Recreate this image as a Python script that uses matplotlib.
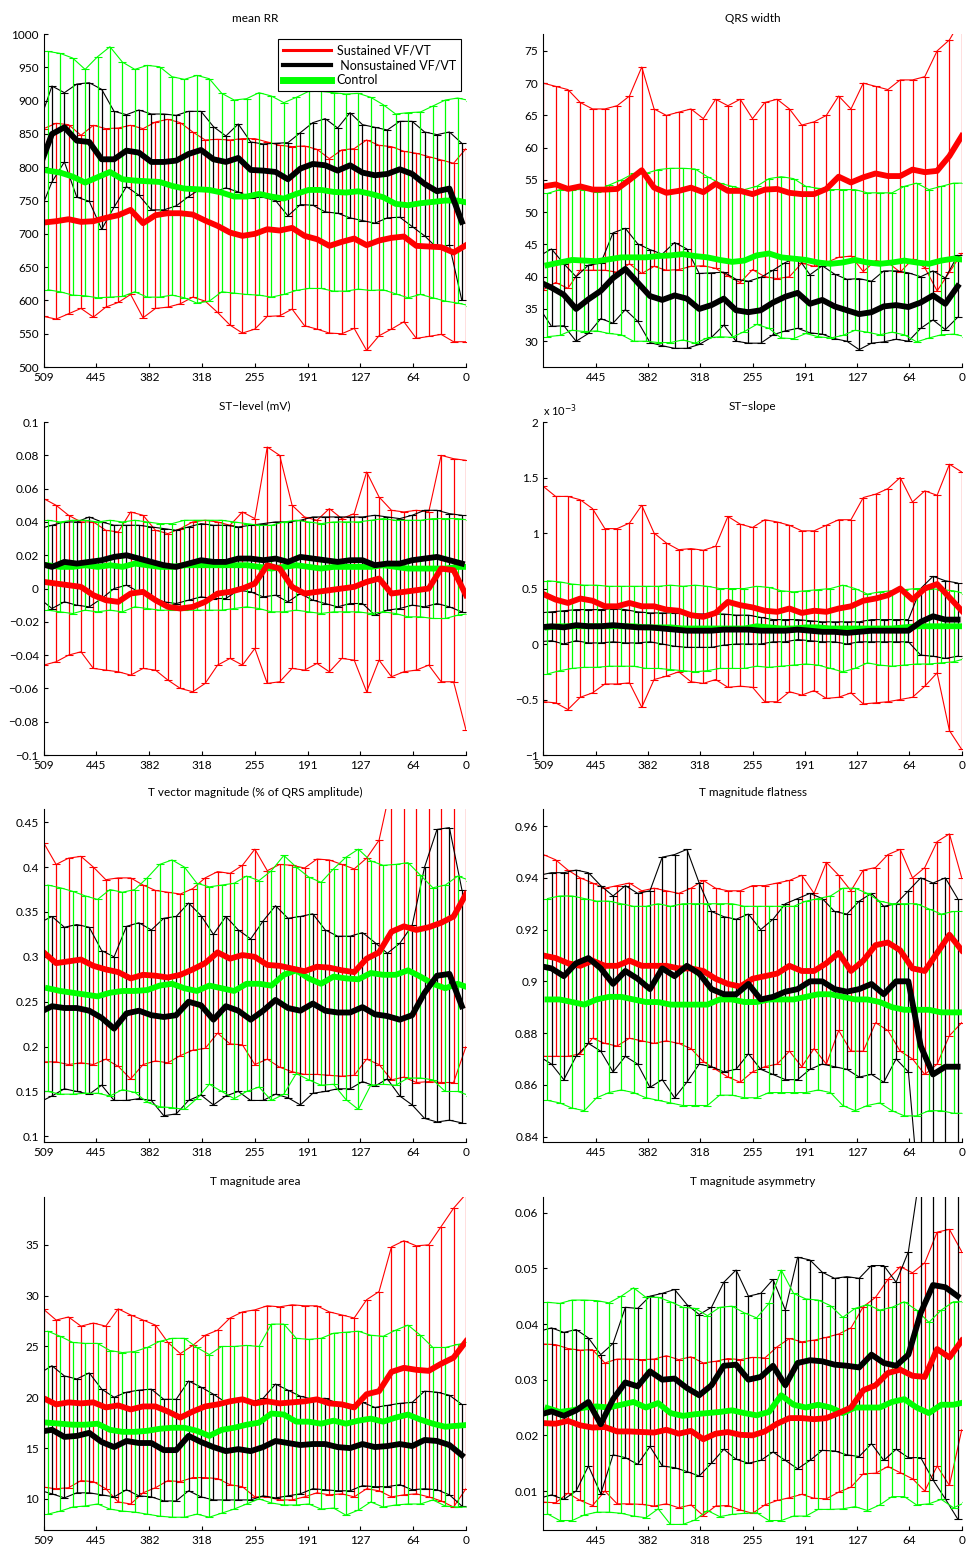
import numpy as np
import matplotlib
matplotlib.use('Agg')
import matplotlib.pyplot as plt
from matplotlib.lines import Line2D
from matplotlib.ticker import FuncFormatter

plt.rcParams['font.family'] = ['Lato', 'DejaVu Sans']

# sample index before the event, read every ~15 samples
x_sus = np.linspace(509, 0, 35)
x_non = x_sus + 5
x_ctl = x_sus - 5
tick_pos = np.linspace(509, 0, 9)
tick_lab = ['509', '445', '382', '318', '255', '191', '127', '64', '0']

labels = ['Sustained VF/VT', ' Nonsustained VF/VT', 'Control']

# mean RR
rr_sus_mean = [717, 719, 722, 718, 719, 724, 728, 736, 716, 728, 731, 731, 729, 720, 712, 702, 697, 700, 707, 705,
               709, 697, 692, 682, 688, 693, 683, 690, 694, 696, 682, 681, 680, 672, 683]
rr_sus_sd = [141, 147, 142, 130, 144, 134, 131, 127, 142, 140, 141, 136, 124, 121, 130, 139, 146, 143, 131, 128,
             122, 135, 135, 131, 138, 135, 158, 143, 137, 128, 139, 135, 131, 134, 145]
rr_non_mean = [800, 850, 860, 840, 838, 812, 812, 825, 822, 808, 808, 810, 820, 826, 812, 808, 814, 796, 795, 793,
               782, 798, 805, 803, 795, 803, 792, 788, 790, 797, 790, 775, 764, 768, 718]
rr_non_sd = [68, 72, 52, 85, 89, 105, 72, 54, 64, 72, 72, 68, 64, 58, 49, 39, 51, 42, 40, 43,
             55, 54, 62, 70, 64, 79, 72, 72, 66, 72, 79, 78, 85, 85, 118]
rr_ctl_mean = [795, 792, 786, 777, 785, 793, 782, 780, 779, 778, 772, 768, 767, 766, 762, 756, 756, 760, 756, 753,
               760, 766, 766, 763, 762, 764, 760, 755, 745, 743, 746, 748, 750, 750, 746]
rr_ctl_sd = [179, 179, 178, 170, 181, 188, 176, 167, 174, 173, 164, 164, 171, 167, 149, 145, 147, 152, 151, 144,
             145, 148, 148, 149, 148, 147, 145, 139, 135, 139, 137, 144, 151, 154, 154]

# QRS width
qrs_sus_mean = [54, 54.3, 53.6, 54, 53.5, 53.5, 53.6, 55, 56.5, 53.8, 53, 53.3, 53.8, 53.1, 54.4, 53.3, 53.3, 52.8,
                53.5, 53.6, 53, 52.8, 52.8, 53.6, 55.5, 54.6, 55.4, 56, 55.6, 55.6, 56.6, 56.2, 56.4, 58.7, 61.8]
qrs_sus_sd = [16, 15.2, 15.4, 13, 12.5, 12.5, 12.9, 13, 16, 12.2, 12, 12.2, 12.2, 11.4, 13.1, 13.2, 14.2, 11.7,
              13.5, 13.9, 13, 10.7, 11.2, 11.4, 12.5, 11.4, 14.6, 13.5, 13.4, 14.9, 13.9, 14.8, 18.6, 18, 18.2]
qrs_non_mean = [39.2, 38.3, 37.2, 35, 36.5, 37.8, 39.8, 41.2, 39.1, 37, 36.4, 37.1, 36.6, 35, 35.6, 36.6, 34.8, 34.5,
                34.8, 36, 36.9, 37.5, 35.8, 36.4, 35.4, 34.8, 34.2, 34.5, 35.4, 35.6, 35.3, 36, 37.1, 35.8, 38.5]
qrs_non_sd = [4, 6, 4.8, 5, 5.3, 4.3, 7, 6.3, 6, 7.2, 7.1, 8.2, 7.7, 5.5, 5, 4.1, 4.8, 4.8,
              5.1, 5, 5.3, 5.5, 4.5, 5.3, 5, 4.8, 5.5, 4.8, 5.5, 5.3, 5.3, 4, 3.8, 4, 4.8]
qrs_ctl_mean = [41.8, 42.2, 42.6, 42.5, 42.4, 42.7, 43, 43, 43, 43.2, 43.3, 43.5, 43.2, 43, 42.6, 42.3, 42.5, 43.3,
                43.6, 43, 42.8, 42.6, 42.2, 42, 42.2, 42.6, 42.2, 42, 42.2, 42.5, 42.2, 42, 42.5, 42.8, 42.6]
qrs_ctl_sd = [11.1, 11.3, 10.9, 11, 10.8, 11.5, 12, 13, 13, 13.4, 13.5, 13.3, 13.5, 12.5, 11.9, 11.7, 11, 10.7,
              11.6, 12.5, 12.4, 11.4, 11.5, 11.5, 11.3, 10.9, 10.8, 11, 10.8, 11.5, 12.3, 11.5, 11.5, 11.7, 11.9]

# ST-level (mV)
st_sus_mean = [0.004, 0.003, 0.002, 0.001, -0.004, -0.007, -0.008, -0.003, -0.002, -0.007, -0.011, -0.012, -0.011,
               -0.008, -0.003, -0.002, 0.0, 0.003, 0.014, 0.012, 0.001, -0.003, -0.002, -0.001, 0.0, 0.001, 0.004,
               0.006, -0.003, -0.002, -0.001, 0.0, 0.012, 0.011, -0.004]
st_sus_sd = [0.050, 0.047, 0.042, 0.039, 0.044, 0.042, 0.042, 0.049, 0.046, 0.042, 0.044, 0.048, 0.051, 0.049,
             0.043, 0.040, 0.046, 0.039, 0.071, 0.068, 0.049, 0.046, 0.043, 0.049, 0.042, 0.044, 0.066, 0.049,
             0.050, 0.048, 0.048, 0.046, 0.068, 0.067, 0.081]
st_non_mean = [0.015, 0.013, 0.016, 0.015, 0.016, 0.017, 0.019, 0.02, 0.018, 0.016, 0.014, 0.013, 0.015, 0.017,
               0.016, 0.016, 0.018, 0.018, 0.017, 0.018, 0.016, 0.019, 0.018, 0.017, 0.016, 0.017, 0.017, 0.014,
               0.015, 0.015, 0.017, 0.018, 0.019, 0.017, 0.015]
st_non_sd = [0.021, 0.025, 0.024, 0.025, 0.027, 0.023, 0.019, 0.018, 0.02, 0.021, 0.022, 0.022, 0.022, 0.022,
             0.022, 0.022, 0.019, 0.02, 0.022, 0.022, 0.024, 0.022, 0.025, 0.026, 0.027, 0.026, 0.026, 0.03,
             0.028, 0.027, 0.027, 0.029, 0.028, 0.028, 0.029]
st_ctl_mean = [0.014, 0.013, 0.013, 0.014, 0.013, 0.014, 0.013, 0.015, 0.014, 0.013, 0.013, 0.014, 0.014, 0.014,
               0.014, 0.014, 0.014, 0.013, 0.012, 0.013, 0.014, 0.013, 0.012, 0.013, 0.013, 0.013, 0.013, 0.014,
               0.013, 0.012, 0.012, 0.012, 0.012, 0.013, 0.013]
st_ctl_sd = [0.027, 0.027, 0.028, 0.027, 0.027, 0.027, 0.027, 0.026, 0.026, 0.026, 0.026, 0.027, 0.027, 0.027,
             0.027, 0.026, 0.025, 0.025, 0.026, 0.027, 0.027, 0.027, 0.027, 0.027, 0.027, 0.027, 0.028, 0.028,
             0.028, 0.029, 0.029, 0.03, 0.03, 0.029, 0.028]

# ST-slope, in units of 1e-3
sl_sus_mean = [0.45, 0.4, 0.37, 0.41, 0.39, 0.34, 0.34, 0.37, 0.34, 0.34, 0.31, 0.3, 0.26, 0.245, 0.28, 0.38, 0.35,
               0.33, 0.3, 0.29, 0.32, 0.28, 0.3, 0.29, 0.32, 0.34, 0.39, 0.41, 0.44, 0.5, 0.4, 0.5, 0.54, 0.42, 0.3]
sl_sus_sd = [0.97, 0.93, 0.96, 0.89, 0.83, 0.7, 0.7, 0.72, 0.91, 0.66, 0.6, 0.55, 0.6, 0.6, 0.6, 0.77, 0.73,
             0.72, 0.82, 0.81, 0.75, 0.74, 0.72, 0.78, 0.8, 0.78, 0.93, 0.94, 0.96, 1.0, 0.88, 0.88, 0.8, 1.2, 1.25]
sl_non_mean = [0.15, 0.16, 0.15, 0.17, 0.16, 0.16, 0.17, 0.16, 0.15, 0.15, 0.14, 0.13, 0.12, 0.12, 0.12, 0.13, 0.13,
               0.13, 0.12, 0.12, 0.12, 0.13, 0.12, 0.11, 0.11, 0.1, 0.11, 0.12, 0.12, 0.12, 0.12, 0.2, 0.25, 0.22, 0.22]
sl_non_sd = [0.13, 0.13, 0.15, 0.14, 0.15, 0.15, 0.15, 0.15, 0.14, 0.13, 0.14, 0.15, 0.15, 0.15, 0.15, 0.14, 0.13,
             0.13, 0.12, 0.1, 0.1, 0.09, 0.09, 0.09, 0.09, 0.1, 0.09, 0.1, 0.1, 0.1, 0.1, 0.3, 0.36, 0.35, 0.33]
sl_ctl_mean = [0.15, 0.16, 0.16, 0.16, 0.16, 0.16, 0.16, 0.16, 0.15, 0.15, 0.15, 0.14, 0.14, 0.14, 0.14, 0.14, 0.14,
               0.16, 0.15, 0.14, 0.14, 0.15, 0.15, 0.14, 0.14, 0.14, 0.14, 0.14, 0.14, 0.15, 0.16, 0.16, 0.16, 0.16, 0.16]
sl_ctl_sd = [0.42, 0.4, 0.38, 0.37, 0.37, 0.36, 0.36, 0.36, 0.37, 0.37, 0.38, 0.38, 0.39, 0.38, 0.36, 0.36, 0.36,
             0.36, 0.36, 0.34, 0.33, 0.33, 0.34, 0.36, 0.39, 0.36, 0.31, 0.33, 0.34, 0.34, 0.34, 0.34, 0.33, 0.32, 0.29]

# T vector magnitude
tv_sus_mean = [0.305, 0.293, 0.295, 0.297, 0.29, 0.286, 0.283, 0.276, 0.28, 0.279, 0.277, 0.28, 0.286, 0.293,
               0.305, 0.298, 0.302, 0.3, 0.291, 0.29, 0.287, 0.284, 0.289, 0.288, 0.285, 0.283, 0.298, 0.305,
               0.328, 0.334, 0.33, 0.333, 0.338, 0.345, 0.37]
tv_sus_sd = [0.122, 0.11, 0.115, 0.115, 0.11, 0.1, 0.105, 0.112, 0.1, 0.095, 0.095, 0.09, 0.09, 0.095, 0.09,
             0.095, 0.1, 0.12, 0.105, 0.113, 0.115, 0.115, 0.12, 0.12, 0.118, 0.115, 0.112, 0.125, 0.165, 0.168,
             0.17, 0.172, 0.178, 0.185, 0.17]
tv_non_mean = [0.238, 0.245, 0.243, 0.243, 0.24, 0.232, 0.22, 0.237, 0.24, 0.235, 0.233, 0.235, 0.25, 0.246,
               0.23, 0.245, 0.24, 0.23, 0.24, 0.252, 0.243, 0.24, 0.248, 0.24, 0.238, 0.238, 0.244, 0.236, 0.234,
               0.23, 0.235, 0.26, 0.279, 0.281, 0.245]
tv_non_sd = [0.1, 0.1, 0.09, 0.093, 0.093, 0.075, 0.08, 0.097, 0.098, 0.095, 0.11, 0.11, 0.11, 0.1, 0.095, 0.1,
             0.09, 0.09, 0.1, 0.105, 0.1, 0.105, 0.1, 0.09, 0.085, 0.085, 0.083, 0.08, 0.07, 0.085, 0.1, 0.14,
             0.163, 0.163, 0.13]
tv_ctl_mean = [0.265, 0.262, 0.26, 0.258, 0.256, 0.26, 0.262, 0.262, 0.263, 0.268, 0.27, 0.265, 0.262, 0.268,
               0.265, 0.262, 0.27, 0.27, 0.268, 0.28, 0.285, 0.276, 0.27, 0.278, 0.276, 0.275, 0.282, 0.28, 0.28,
               0.285, 0.278, 0.27, 0.265, 0.27, 0.265]
tv_ctl_sd = [0.115, 0.115, 0.113, 0.11, 0.108, 0.115, 0.11, 0.113, 0.125, 0.135, 0.138, 0.135, 0.12, 0.11, 0.115,
             0.12, 0.12, 0.115, 0.128, 0.133, 0.115, 0.113, 0.113, 0.12, 0.135, 0.145, 0.125, 0.122, 0.123, 0.12,
             0.113, 0.107, 0.115, 0.12, 0.12]

# T magnitude flatness
tf_sus_mean = [0.91, 0.909, 0.907, 0.906, 0.908, 0.906, 0.906, 0.908, 0.906, 0.906, 0.906, 0.905, 0.905, 0.904,
               0.901, 0.899, 0.898, 0.901, 0.902, 0.903, 0.906, 0.904, 0.904, 0.907, 0.911, 0.904, 0.908, 0.914,
               0.915, 0.912, 0.905, 0.904, 0.911, 0.918, 0.912]
tf_sus_sd = [0.039, 0.038, 0.036, 0.034, 0.03, 0.03, 0.031, 0.03, 0.029, 0.03, 0.029, 0.029, 0.031, 0.035, 0.035,
             0.036, 0.037, 0.036, 0.035, 0.035, 0.033, 0.037, 0.03, 0.039, 0.03, 0.031, 0.035, 0.03, 0.034, 0.039,
             0.035, 0.04, 0.043, 0.039, 0.028]
tf_non_mean = [0.906, 0.905, 0.902, 0.907, 0.909, 0.905, 0.899, 0.904, 0.901, 0.897, 0.905, 0.902, 0.906, 0.903,
               0.897, 0.895, 0.895, 0.899, 0.893, 0.894, 0.896, 0.897, 0.9, 0.9, 0.897, 0.896, 0.897, 0.899, 0.895,
               0.9, 0.9, 0.875, 0.864, 0.867, 0.867]
tf_non_sd = [0.035, 0.037, 0.04, 0.036, 0.033, 0.032, 0.034, 0.033, 0.033, 0.038, 0.043, 0.047, 0.045, 0.035,
             0.03, 0.03, 0.029, 0.027, 0.027, 0.03, 0.034, 0.035, 0.034, 0.032, 0.03, 0.03, 0.034, 0.035, 0.034,
             0.03, 0.035, 0.065, 0.074, 0.073, 0.065]
tf_ctl_mean = [0.893, 0.893, 0.892, 0.891, 0.893, 0.894, 0.894, 0.893, 0.892, 0.892, 0.891, 0.891, 0.891, 0.891,
               0.893, 0.893, 0.892, 0.892, 0.893, 0.893, 0.893, 0.894, 0.895, 0.895, 0.894, 0.893, 0.893, 0.892,
               0.89, 0.889, 0.889, 0.889, 0.888, 0.888, 0.888]
tf_ctl_sd = [0.039, 0.04, 0.041, 0.041, 0.038, 0.037, 0.036, 0.036, 0.037, 0.038, 0.038, 0.039, 0.039, 0.039,
             0.037, 0.037, 0.037, 0.037, 0.036, 0.036, 0.036, 0.037, 0.037, 0.038, 0.042, 0.043, 0.041, 0.039,
             0.04, 0.041, 0.041, 0.039, 0.038, 0.039, 0.039]

# T magnitude area
ta_sus_mean = [19.9, 19.3, 19.5, 19.4, 19.5, 19, 19.2, 18.8, 19.1, 19.1, 18.6, 18, 18.6, 19.1, 19.3, 19.6, 19.8,
               19.4, 19.6, 19.4, 19.5, 19.6, 19.8, 19.4, 19.3, 19.0, 20.3, 20.6, 22.5, 22.9, 22.7, 22.6, 23.3,
               23.9, 25.5]
ta_sus_sd = [8.75, 8.3, 8.4, 7.6, 7.8, 8, 9.5, 9.3, 8.5, 8, 6.8, 6.3, 6.5, 7, 7.3, 8.2, 8.6, 9.2, 9.4, 9.5, 9.6,
             9.4, 9.2, 9, 8.8, 8.8, 9.3, 9.8, 12.3, 12.5, 12.2, 12.4, 13.5, 14.7, 14.5]
ta_non_mean = [16.6, 16.8, 16.1, 16.2, 16.5, 15.6, 15.1, 15.7, 15.5, 15.5, 14.8, 14.8, 16.2, 15.6, 15.1, 14.7,
               14.9, 14.7, 15.1, 15.7, 15.5, 15.3, 15.4, 15.4, 15.1, 15, 15.4, 15.1, 15.2, 15.4, 15.2, 15.8, 15.7,
               15.3, 14.3]
ta_non_sd = [5.75, 6.3, 6, 5.6, 5.9, 5.2, 4.9, 4.8, 5.2, 5.3, 5, 5, 5.4, 5.4, 5.2, 4.8, 5, 4.8, 4.8, 5.6, 5.2,
             4.8, 4.4, 4.5, 4.3, 4.2, 4.1, 3.9, 4, 4, 4.3, 4.8, 4.8, 4.9, 5]
ta_ctl_mean = [17.5, 17.4, 17.3, 17.3, 17.4, 16.8, 16.6, 16.6, 16.7, 16.9, 17, 17, 16.7, 16.2, 16.8, 17, 17.3,
               17.5, 18.4, 18.3, 17.6, 17.6, 17.4, 17.7, 17.4, 17.7, 17.9, 17.6, 18, 18.3, 17.8, 17.4, 17.1, 17.2,
               17.3]
ta_ctl_sd = [9, 8.6, 8.1, 8, 7.9, 7.8, 7.8, 7.9, 8.2, 8.6, 8.8, 8.8, 8.2, 8, 8.2, 8, 7.8, 7.5, 8.8, 8.9, 8.2,
             8.1, 8.4, 8.6, 9, 8.8, 8.2, 8.4, 8.6, 8.8, 8.3, 7.5, 7.8, 8, 8.1]

# T magnitude asymmetry
tas_sus_mean = [0.0222, 0.0221, 0.0226, 0.0218, 0.0214, 0.0215, 0.0207, 0.0207, 0.0206, 0.0205, 0.021, 0.0203,
                0.0208, 0.0193, 0.0203, 0.0206, 0.0201, 0.02, 0.0207, 0.0221, 0.0231, 0.0231, 0.0229, 0.0231,
                0.024, 0.025, 0.0281, 0.029, 0.0312, 0.0318, 0.0307, 0.0305, 0.0355, 0.034, 0.037]
tas_sus_sd = [0.0142, 0.0142, 0.013, 0.0135, 0.014, 0.0115, 0.013, 0.013, 0.013, 0.0132, 0.0133, 0.0133, 0.0133,
              0.0137, 0.013, 0.0132, 0.0135, 0.014, 0.0132, 0.0138, 0.0143, 0.0137, 0.0142, 0.0145, 0.0142,
              0.0143, 0.015, 0.0158, 0.0168, 0.0185, 0.0185, 0.0205, 0.021, 0.023, 0.016]
tas_non_mean = [0.0237, 0.0243, 0.0235, 0.0245, 0.026, 0.022, 0.0265, 0.0295, 0.0288, 0.0315, 0.03, 0.0302,
                0.0285, 0.0272, 0.029, 0.0325, 0.0327, 0.03, 0.0305, 0.0325, 0.029, 0.033, 0.0335, 0.0333, 0.0327,
                0.0325, 0.0322, 0.0345, 0.033, 0.0325, 0.0345, 0.042, 0.047, 0.0466, 0.045]
tas_non_sd = [0.015, 0.015, 0.015, 0.0145, 0.0115, 0.0125, 0.01, 0.0135, 0.014, 0.0135, 0.0155, 0.016, 0.015,
              0.0145, 0.014, 0.015, 0.017, 0.015, 0.015, 0.0155, 0.0135, 0.019, 0.018, 0.016, 0.0155, 0.016,
              0.016, 0.016, 0.0175, 0.015, 0.0185, 0.026, 0.035, 0.038, 0.04]
tas_ctl_mean = [0.0249, 0.0242, 0.0245, 0.025, 0.0252, 0.025, 0.0255, 0.026, 0.025, 0.0258, 0.024, 0.0235,
                0.0238, 0.024, 0.0242, 0.0245, 0.024, 0.0236, 0.0242, 0.0272, 0.0255, 0.025, 0.0255, 0.025, 0.024,
                0.025, 0.025, 0.025, 0.026, 0.0265, 0.025, 0.024, 0.0255, 0.0255, 0.026]
tas_ctl_sd = [0.019, 0.0195, 0.0198, 0.0193, 0.019, 0.0188, 0.0195, 0.0205, 0.0198, 0.019, 0.02, 0.0195, 0.019,
              0.0175, 0.0188, 0.0187, 0.018, 0.0175, 0.0195, 0.0225, 0.02, 0.0195, 0.0188, 0.0183, 0.0172,
              0.0178, 0.0185, 0.0175, 0.017, 0.0175, 0.0175, 0.0163, 0.017, 0.0185, 0.018]

RED = '#ff0000'
BLACK = '#000000'
GREEN = '#00ff00'


def minus_fmt(v, pos):
    return ('%g' % v).replace('-', '\u2212')


def draw_spread(ax, x, mean, sd, color):
    mean = np.asarray(mean, dtype=float)
    sd = np.asarray(sd, dtype=float)
    ax.errorbar(x, mean, yerr=sd, fmt='none', ecolor=color, elinewidth=0.9,
                capsize=3, capthick=0.8)
    ax.plot(x, mean + sd, color=color, lw=0.8)
    ax.plot(x, mean - sd, color=color, lw=0.8)


def draw_panel(ax, title, sus, non, ctl, ylim, yticks, show_509=True):
    draw_spread(ax, x_sus, sus[0], sus[1], RED)
    draw_spread(ax, x_non, non[0], non[1], BLACK)
    draw_spread(ax, x_ctl, ctl[0], ctl[1], GREEN)
    # thick mean curves on top
    ax.plot(x_ctl, ctl[0], color=GREEN, lw=4.2, solid_joinstyle='round')
    ax.plot(x_sus, sus[0], color=RED, lw=4.2, solid_joinstyle='round')
    ax.plot(x_non, non[0], color=BLACK, lw=4.2, solid_joinstyle='round')

    ax.set_xlim(509, 0)
    ax.set_ylim(*ylim)
    if show_509:
        ax.set_xticks(tick_pos)
        ax.set_xticklabels(tick_lab)
    else:
        ax.set_xticks(tick_pos[1:])
        ax.set_xticklabels(tick_lab[1:])
    ax.set_yticks(yticks)
    ax.yaxis.set_major_formatter(FuncFormatter(minus_fmt))
    ax.spines['top'].set_visible(False)
    ax.spines['right'].set_visible(False)
    ax.tick_params(direction='in', length=3, labelsize=8.5, width=0.8)
    ax.set_title(title, fontsize=8.5, pad=9)


fig = plt.figure(figsize=(9.69, 15.5), dpi=100)

col_left = [0.0451, 0.5607]
col_width = [0.4358, 0.4318]
row_bottom = [0.7632, 0.5129, 0.2634, 0.0129]
row_height = 0.2148


def make_axes(row, col):
    return fig.add_axes([col_left[col], row_bottom[row], col_width[col], row_height])


ax = make_axes(0, 0)
draw_panel(ax, 'mean RR', (rr_sus_mean, rr_sus_sd), (rr_non_mean, rr_non_sd), (rr_ctl_mean, rr_ctl_sd),
           (500, 1000), np.arange(500, 1001, 50))
handles = [Line2D([], [], color=RED, lw=2.2),
           Line2D([], [], color=BLACK, lw=3.0),
           Line2D([], [], color=GREEN, lw=5.0)]
leg = ax.legend(handles, labels, loc='upper right', fontsize=9, fancybox=False, framealpha=1,
                edgecolor='black', handlelength=3.8, borderaxespad=0.4, labelspacing=0.25,
                borderpad=0.4, handletextpad=0.5)
leg.get_frame().set_linewidth(0.8)

ax = make_axes(0, 1)
draw_panel(ax, 'QRS width', (qrs_sus_mean, qrs_sus_sd), (qrs_non_mean, qrs_non_sd), (qrs_ctl_mean, qrs_ctl_sd),
           (26, 77.6), np.arange(30, 76, 5), show_509=False)

ax = make_axes(1, 0)
draw_panel(ax, 'ST\u2212level (mV)', (st_sus_mean, st_sus_sd), (st_non_mean, st_non_sd), (st_ctl_mean, st_ctl_sd),
           (-0.1, 0.1), np.linspace(-0.1, 0.1, 11))

ax = make_axes(1, 1)
draw_panel(ax, 'ST\u2212slope', (sl_sus_mean, sl_sus_sd), (sl_non_mean, sl_non_sd), (sl_ctl_mean, sl_ctl_sd),
           (-1, 2), np.arange(-1, 2.01, 0.5))
ax.text(0.0, 1.008, r'x 10$^{-3}$', transform=ax.transAxes, ha='left', va='bottom', fontsize=8)

ax = make_axes(2, 0)
draw_panel(ax, 'T vector magnitude (% of QRS amplitude)', (tv_sus_mean, tv_sus_sd), (tv_non_mean, tv_non_sd),
           (tv_ctl_mean, tv_ctl_sd), (0.094, 0.465), np.arange(0.1, 0.451, 0.05))

ax = make_axes(2, 1)
draw_panel(ax, 'T magnitude flatness', (tf_sus_mean, tf_sus_sd), (tf_non_mean, tf_non_sd),
           (tf_ctl_mean, tf_ctl_sd), (0.838, 0.9667), np.arange(0.84, 0.961, 0.02), show_509=False)

ax = make_axes(3, 0)
draw_panel(ax, 'T magnitude area', (ta_sus_mean, ta_sus_sd), (ta_non_mean, ta_non_sd),
           (ta_ctl_mean, ta_ctl_sd), (6.94, 39.7), np.arange(10, 36, 5))

ax = make_axes(3, 1)
draw_panel(ax, 'T magnitude asymmetry', (tas_sus_mean, tas_sus_sd), (tas_non_mean, tas_non_sd),
           (tas_ctl_mean, tas_ctl_sd), (0.003, 0.0628), np.arange(0.01, 0.061, 0.01), show_509=False)

fig.savefig('out.png', dpi=100)
